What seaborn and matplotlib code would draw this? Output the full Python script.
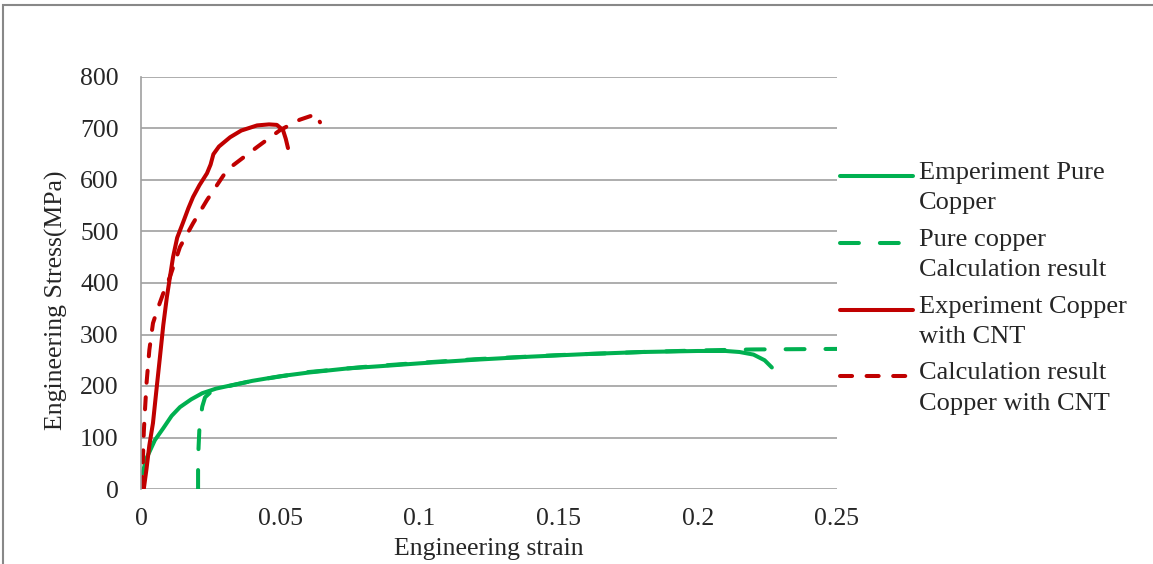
import numpy as np
import pandas as pd
import matplotlib
matplotlib.use('Agg')
import matplotlib.pyplot as plt
import seaborn as sns
from matplotlib.patches import Rectangle
from matplotlib.legend_handler import HandlerLine2D

# experiment, pure copper
cu_exp_strain = [0.0005, 0.002, 0.005, 0.008, 0.011, 0.014, 0.018, 0.022, 0.027, 0.033, 0.04, 0.05,
                 0.06, 0.074, 0.09, 0.1, 0.12, 0.14, 0.16, 0.18, 0.2, 0.21, 0.215, 0.22, 0.224, 0.2266]
cu_exp_stress = [30, 60, 95, 118, 142, 159, 174, 186, 195, 202, 210, 219,
                 226, 234, 240, 244, 251, 257, 262, 266, 268, 268, 266, 261, 250, 236]

# calculation, pure copper
cu_calc_strain = [0.0205, 0.0205, 0.021, 0.022, 0.023, 0.025, 0.03, 0.04, 0.06, 0.08, 0.1, 0.12,
                  0.15, 0.18, 0.2, 0.22, 0.25]
cu_calc_stress = [0, 60, 120, 160, 178, 188, 198, 210, 227, 237, 245, 252,
                  260, 266, 269, 271, 272]

# experiment, copper with CNT
cnt_exp_strain = [0.001, 0.002, 0.003, 0.0043, 0.0055, 0.0068, 0.008, 0.0093, 0.0105, 0.0115, 0.013,
                  0.015, 0.017, 0.0187, 0.021, 0.0237, 0.025, 0.026, 0.028, 0.032, 0.036, 0.0417,
                  0.046, 0.0488, 0.051, 0.052, 0.0528]
cnt_exp_stress = [0, 40, 85, 128, 190, 256, 318, 373, 415, 450, 488,
                  516, 545, 567, 590, 613, 630, 650, 665, 683, 696, 706,
                  708, 707, 697, 680, 662]

# calculation, copper with CNT
cnt_calc_strain = [0.0005, 0.0007, 0.001, 0.0015, 0.002, 0.003, 0.0043, 0.006, 0.008, 0.0104, 0.014,
                   0.0187, 0.0237, 0.031, 0.0417, 0.05, 0.057, 0.063, 0.0643]
cnt_calc_stress = [0, 60, 110, 160, 206, 270, 322, 350, 380, 412, 470,
                   516, 561, 620, 664, 697, 717, 728, 712]

labels = ['Emperiment Pure\nCopper', 'Pure copper\nCalculation result',
          'Experiment Copper\nwith CNT', 'Calculation result\nCopper with CNT']

green = '#00B050'
red = '#C00000'


class TopLineHandler(HandlerLine2D):
    # put the legend line next to the first text line, like Excel does
    def __init__(self, shift, **kw):
        super().__init__(**kw)
        self.shift = shift

    def create_artists(self, legend, orig_handle, xdescent, ydescent, width, height, fontsize, trans):
        return super().create_artists(legend, orig_handle, xdescent, ydescent - 2*self.shift,
                                      width, height, fontsize, trans)


sns.set_style('white')
plt.rcParams['font.family'] = ['Liberation Serif', 'DejaVu Serif']

fig = plt.figure(figsize=(11.53, 5.64), dpi=100)
ax = fig.add_axes([141/1153, 1-489/564, (837-141)/1153, (489-77)/564])

lw = 2.9
series = [
    (cu_exp_strain, cu_exp_stress, green, '-'),
    (cu_calc_strain, cu_calc_stress, green, (0, (4.7, 5.2))),
    (cnt_exp_strain, cnt_exp_stress, red, '-'),
    (cnt_calc_strain, cnt_calc_stress, red, (0, (3.0, 3.6))),
]
for (xs, ys, col, ls), lab in zip(series, labels):
    sns.lineplot(x=xs, y=ys, color=col, lw=lw, sort=False, estimator=None, ax=ax,
                 label=lab, linestyle=ls, dash_capstyle='round', solid_capstyle='round')

ax.set_xlim(0, 0.25)
ax.set_ylim(0, 800)
ax.set_xticks([0, 0.05, 0.1, 0.15, 0.2, 0.25])
ax.set_xticklabels(['0', '0.05', '0.1', '0.15', '0.2', '0.25'])
ax.set_yticks(range(0, 801, 100))
ax.yaxis.grid(True, color='#a0a0a0', lw=1.2)
ax.xaxis.grid(False)
ax.set_axisbelow(True)
for s in ['top', 'right', 'bottom']:
    ax.spines[s].set_visible(False)
ax.spines['left'].set_color('#a0a0a0')
ax.spines['left'].set_linewidth(1.2)
ax.tick_params(axis='both', length=0, labelsize=18.5)
ax.tick_params(axis='y', pad=16)
ax.tick_params(axis='x', pad=14)

ax.set_xlabel('Engineering strain', fontsize=18.5)
ax.set_ylabel('Engineering Stress(MPa)', fontsize=18.5)
ax.xaxis.set_label_coords(0.5, -0.12)
ax.yaxis.set_label_coords(-0.105, 0.459)

fs = 19
hmap = {h: TopLineHandler(shift=0.43*fs) for h in ax.get_lines()}
leg = ax.legend(loc='upper left', bbox_to_anchor=(840/1153, 1-162/564),
                bbox_transform=fig.transFigure, frameon=False, fontsize=fs,
                borderpad=0, borderaxespad=0, handlelength=2.75, handletextpad=0.25,
                labelspacing=0.54, handler_map=hmap)
for t in leg.get_texts():
    t.set_linespacing(1.5)

fig.patches.append(Rectangle((3/1153, -0.1), 1.2, 0.1 + 1-5/564, transform=fig.transFigure,
                             fill=False, edgecolor='#888888', lw=1.5))

fig.savefig('out.png', dpi=100)
